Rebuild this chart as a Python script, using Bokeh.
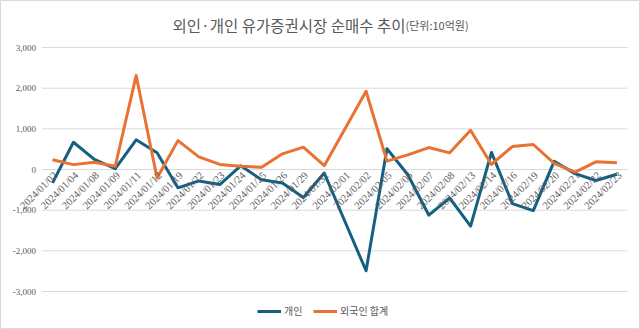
import math
from bokeh.plotting import figure
from bokeh.models import (Range1d, Legend, LegendItem, Label, LabelSet,
                          ColumnDataSource)
from bokeh.embed import file_html
from bokeh.resources import INLINE

dates = ["2024/01/02", "2024/01/04", "2024/01/08", "2024/01/09", "2024/01/11",
         "2024/01/12", "2024/01/19", "2024/01/22", "2024/01/23", "2024/01/24",
         "2024/01/25", "2024/01/26", "2024/01/29", "2024/01/31", "2024/02/01",
         "2024/02/02", "2024/02/05", "2024/02/06", "2024/02/07", "2024/02/08",
         "2024/02/13", "2024/02/14", "2024/02/16", "2024/02/19", "2024/02/20",
         "2024/02/21", "2024/02/22", "2024/02/23"]

individual = [-330, 670, 250, 20, 730, 410, -450, -280, -370, 90,
              -250, -330, -690, -85, -1290, -2490, 510, -130, -1120, -700,
              -1390, 420, -840, -1010, 200, -100, -270, -115]

foreign_total = [240, 120, 180, 80, 2310, -210, 710, 310, 125, 80,
                 55, 385, 550, 95, 1010, 1925, 205, 360, 540, 410,
                 965, 125, 565, 615, 150, -65, 190, 165]

y_ticks = [-3000, -2000, -1000, 0, 1000, 2000, 3000]
y_tick_labels = ["-3,000", "-2,000", "-1,000", "0", "1,000", "2,000", "3,000"]

title_main = "외인·개인 유가증권시장 순매수 추이"
title_unit = "(단위:10억원)"
series_names = ["개인", "외국인 합계"]

FONT = "Noto Sans CJK KR"
NUMFONT = "Liberation Sans"
GRAY = "#595959"

n = len(dates)
idx = list(range(n))

# whole canvas is the plot frame; everything is drawn inside it
p = figure(width=640, height=329,
           x_range=Range1d(-2.49, 28.13),
           y_range=Range1d(-3934, 4156),
           output_backend="svg", toolbar_location=None,
           min_border=0, min_border_left=0, min_border_right=0,
           min_border_top=0, min_border_bottom=0)
p.axis.visible = False
p.grid.visible = False
p.outline_line_color = "#d9d9d9"
p.outline_line_width = 1
p.background_fill_color = "white"
p.border_fill_color = "white"

# horizontal gridlines spanning the category band
p.segment(x0=[-0.5] * len(y_ticks), x1=[n - 0.5] * len(y_ticks),
          y0=y_ticks, y1=y_ticks, line_color="#d9d9d9", line_width=1)

r1 = p.line(x=idx, y=individual, line_color="#156082", line_width=3,
            line_join="round")
r2 = p.line(x=idx, y=foreign_total, line_color="#E97132", line_width=3,
            line_join="round")

# y tick labels
ysrc = ColumnDataSource(dict(x=[-0.5] * len(y_ticks), y=y_ticks, t=y_tick_labels))
p.add_layout(LabelSet(x="x", y="y", text="t", source=ysrc,
                      text_align="right", text_baseline="middle",
                      x_offset=-6, text_font=NUMFONT, text_font_size="9px",
                      text_color=GRAY))

# category labels along the zero line
xsrc = ColumnDataSource(dict(x=idx, y=[0] * n, t=dates))
p.add_layout(LabelSet(x="x", y="y", text="t", source=xsrc, angle=math.pi / 4,
                      text_align="right", text_baseline="middle",
                      x_offset=3, y_offset=-4, text_font=NUMFONT,
                      text_font_size="10.5px", text_color=GRAY))

# title (two sizes)
p.add_layout(Label(x=405, y=305, x_units="screen", y_units="screen",
                   text=title_main, text_align="right",
                   text_baseline="alphabetic", text_font=FONT,
                   text_font_size="15.5px", text_color=GRAY))
p.add_layout(Label(x=405, y=305, x_units="screen", y_units="screen",
                   text=title_unit, text_align="left",
                   text_baseline="alphabetic", text_font=FONT,
                   text_font_size="11px", text_color=GRAY))

legend = Legend(items=[LegendItem(label=series_names[0], renderers=[r1]),
                       LegendItem(label=series_names[1], renderers=[r2])],
                orientation="horizontal", location=(257, 11),
                label_text_font=FONT, label_text_font_size="10px",
                label_text_color=GRAY, glyph_width=24, glyph_height=12,
                label_standoff=3, spacing=9, border_line_color=None,
                background_fill_alpha=0, padding=0, margin=0)
p.add_layout(legend)

open("out.html", "w").write(file_html(p, INLINE))
